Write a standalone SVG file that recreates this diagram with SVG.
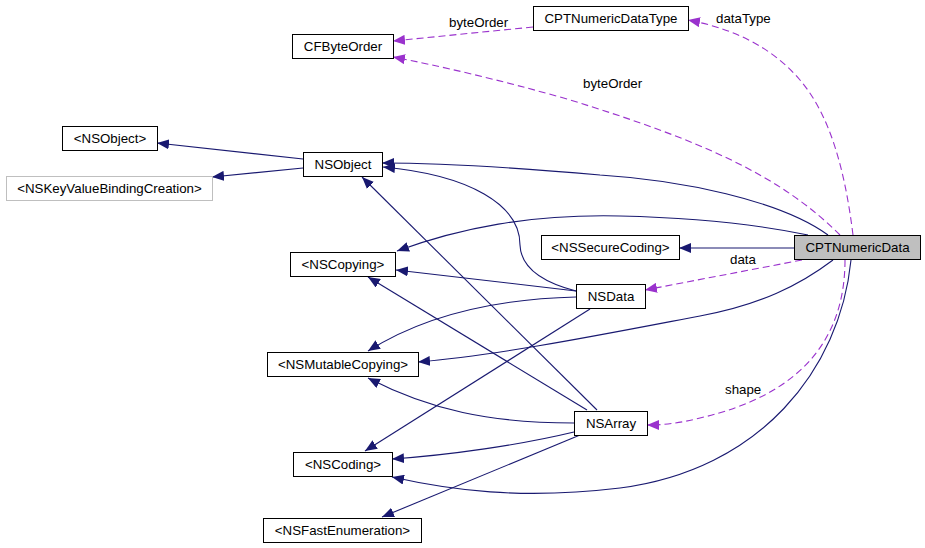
<svg xmlns="http://www.w3.org/2000/svg" width="925" height="548" viewBox="0 0 925 548">
<style>
.n rect{fill:#fff;stroke:#000;stroke-width:1}
.n text{font-family:"Liberation Sans",Arial,Helvetica,sans-serif;font-size:13.3px;text-anchor:middle;fill:#000}
.lbl{font-family:"Liberation Sans",Arial,Helvetica,sans-serif;font-size:13.3px;fill:#000}
.e{fill:none;stroke:#191970;stroke-width:1.1}
.u{fill:none;stroke:#9a32cd;stroke-width:1.1;stroke-dasharray:7,4}
</style>
<defs>
<marker id="ab" markerUnits="userSpaceOnUse" markerWidth="12" markerHeight="10" refX="12" refY="5" orient="auto"><path d="M0,0 L12,5 L0,10 z" fill="#191970"/></marker>
<marker id="ap" markerUnits="userSpaceOnUse" markerWidth="12" markerHeight="10" refX="12" refY="5" orient="auto"><path d="M0,0 L12,5 L0,10 z" fill="#9a32cd"/></marker>
</defs>
<rect width="925" height="548" fill="#fff"/>
<g id="edges">
<path class="e" marker-end="url(#ab)" d="M303,159 L157,143"/>
<path class="e" marker-end="url(#ab)" d="M303,168 L212,177"/>
<path class="e" marker-end="url(#ab)" d="M828,235 C780,200 680,180 600,175 C520,168 450,163 382,163"/>
<path class="e" marker-end="url(#ab)" d="M808,235 C760,225 700,218 620,216 C530,214 460,228 397,251"/>
<path class="e" marker-end="url(#ab)" d="M794,248 L679,248"/>
<path class="e" marker-end="url(#ab)" d="M833,260 C800,285 760,305 700,316 C600,335 500,355 418,362"/>
<path class="e" marker-end="url(#ab)" d="M851,260 C840,370 760,470 620,488 C520,500 450,490 392,477"/>
<path class="e" marker-end="url(#ab)" d="M576,291 C545,283 521,270 520,245 C520,205 470,175 383,167"/>
<path class="e" marker-end="url(#ab)" d="M576,291 L396,270"/>
<path class="e" marker-end="url(#ab)" d="M576,297 C490,299 420,318 368,351"/>
<path class="e" marker-end="url(#ab)" d="M590,309 L365,451"/>
<path class="e" marker-end="url(#ab)" d="M597,410 L362,177"/>
<path class="e" marker-end="url(#ab)" d="M587,410 L368,277"/>
<path class="e" marker-end="url(#ab)" d="M574,423 C490,423 430,410 368,378"/>
<path class="e" marker-end="url(#ab)" d="M574,432 C520,445 450,455 392,459"/>
<path class="e" marker-end="url(#ab)" d="M580,435 L382,517"/>
<path class="u" marker-end="url(#ap)" d="M533,27 L393,41"/>
<path class="u" marker-end="url(#ap)" d="M840,235 C780,175 700,140 567,99 C500,80 440,66 393,57"/>
<path class="u" marker-end="url(#ap)" d="M853,235 C845,170 830,115 800,80 C770,45 730,28 688,20"/>
<path class="u" marker-end="url(#ap)" d="M802,260 L645,290"/>
<path class="u" marker-end="url(#ap)" d="M845,260 C845,340 800,395 700,418 C680,423 665,425 647,425"/>
<text class="lbl" x="449" y="27">byteOrder</text>
<text class="lbl" x="583" y="88">byteOrder</text>
<text class="lbl" x="716" y="23">dataType</text>
<text class="lbl" x="730" y="264">data</text>
<text class="lbl" x="725" y="394">shape</text>
</g>
<g id="CPTNumericDataType" class="n"><rect x="533.5" y="6.5" width="155" height="24"/><text x="611" y="23">CPTNumericDataType</text></g>
<g id="CFByteOrder" class="n"><rect x="292.5" y="34.5" width="101" height="24"/><text x="343" y="51">CFByteOrder</text></g>
<g id="NSObjectProto" class="n"><rect x="62.5" y="126.5" width="95" height="24"/><text x="110" y="143">&lt;NSObject&gt;</text></g>
<g id="NSKeyValueBindingCreation" class="n"><rect x="6.5" y="176.5" width="206" height="24" style="stroke:#bfbfbf"/><text x="109.5" y="193">&lt;NSKeyValueBindingCreation&gt;</text></g>
<g id="NSObject" class="n"><rect x="303.5" y="152.5" width="79" height="24"/><text x="343" y="169">NSObject</text></g>
<g id="CPTNumericData" class="n"><rect x="794.5" y="235.5" width="126" height="24" style="fill:#bfbfbf"/><text x="857.5" y="252">CPTNumericData</text></g>
<g id="NSSecureCoding" class="n"><rect x="541.5" y="235.5" width="138" height="24"/><text x="610.5" y="252">&lt;NSSecureCoding&gt;</text></g>
<g id="NSData" class="n"><rect x="576.5" y="284.5" width="69" height="24"/><text x="611" y="301">NSData</text></g>
<g id="NSCopying" class="n"><rect x="290.5" y="252.5" width="105" height="24"/><text x="343" y="269">&lt;NSCopying&gt;</text></g>
<g id="NSMutableCopying" class="n"><rect x="267.5" y="352.5" width="151" height="24"/><text x="343" y="369">&lt;NSMutableCopying&gt;</text></g>
<g id="NSArray" class="n"><rect x="574.5" y="411.5" width="73" height="24"/><text x="611" y="428">NSArray</text></g>
<g id="NSCoding" class="n"><rect x="293.5" y="452.5" width="99" height="24"/><text x="343" y="469">&lt;NSCoding&gt;</text></g>
<g id="NSFastEnumeration" class="n"><rect x="263.5" y="518.5" width="158" height="24"/><text x="342.5" y="535">&lt;NSFastEnumeration&gt;</text></g>
</svg>
